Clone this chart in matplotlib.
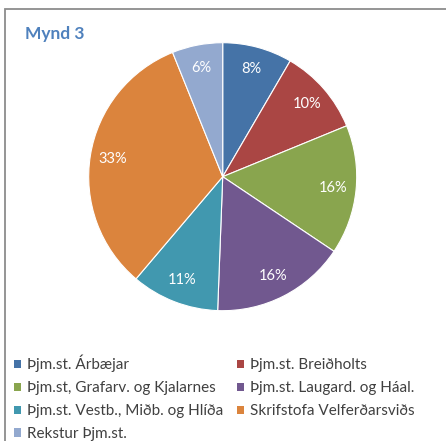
import matplotlib.pyplot as plt
from matplotlib.patches import Rectangle

# data
labels = ["Þjm.st. Árbæjar", "Þjm.st. Breiðholts", "Þjm.st, Grafarv. og Kjalarnes",
          "Þjm.st. Laugard. og Háal.", "Þjm.st. Vestb., Miðb. og Hlíða",
          "Skrifstofa Velferðarsviðs", "Rekstur Þjm.st."]
shares = [8.4, 10.4, 15.6, 16.2, 10.6, 32.7, 6.1]
colors = ["#4573A7", "#AA4644", "#89A54E", "#71588F", "#4198AF", "#DB843D", "#93A9CF"]
title = "Mynd 3"

W, H = 446, 441
plt.rcParams['font.family'] = ['Lato', 'DejaVu Sans']

fig = plt.figure(figsize=(W / 100, H / 100), dpi=100)
fig.patch.set_facecolor("white")

# outer chart frame
fig.patches.append(Rectangle((4.5 / W, -0.1), 1.2, 1 - 8.5 / H + 0.1, transform=fig.transFigure,
                             fill=False, edgecolor="#8C8C8C", linewidth=1.3))

cx, cy, r = 222.7, 176.7, 134
ax = fig.add_axes([(cx - r) / W, (H - cy - r) / H, 2 * r / W, 2 * r / H])
wedges, texts, autotexts = ax.pie(shares, colors=colors, startangle=90, counterclock=False,
                                  autopct=lambda p: "%.0f%%" % p, pctdistance=0.83,
                                  wedgeprops=dict(linewidth=0.8, edgecolor="white"),
                                  textprops=dict(color="white", fontsize=10.5))
ax.set_xlim(-1, 1)
ax.set_ylim(-1, 1)
ax.set_aspect("equal")
ax.axis("off")

fig.text(25 / W, 1 - 34 / H, title, color="#4F81BD", fontsize=12.5, fontweight="bold",
         va="center", ha="left")

# legend filled row by row
order = [0, 2, 4, 6, 1, 3, 5]
leg = fig.legend([wedges[i] for i in order], [labels[i] for i in order], ncol=2,
                 loc="upper left", bbox_to_anchor=(14 / W, 1 - 355 / H), frameon=False,
                 fontsize=11, handlelength=0.46, handleheight=0.46, handletextpad=0.42,
                 labelspacing=0.58, columnspacing=0.85, borderpad=0, borderaxespad=0)
for t in leg.get_texts():
    t.set_color("#404040")
for h in leg.legend_handles:
    h.set_linewidth(0)

fig.savefig("out.png", dpi=100)
